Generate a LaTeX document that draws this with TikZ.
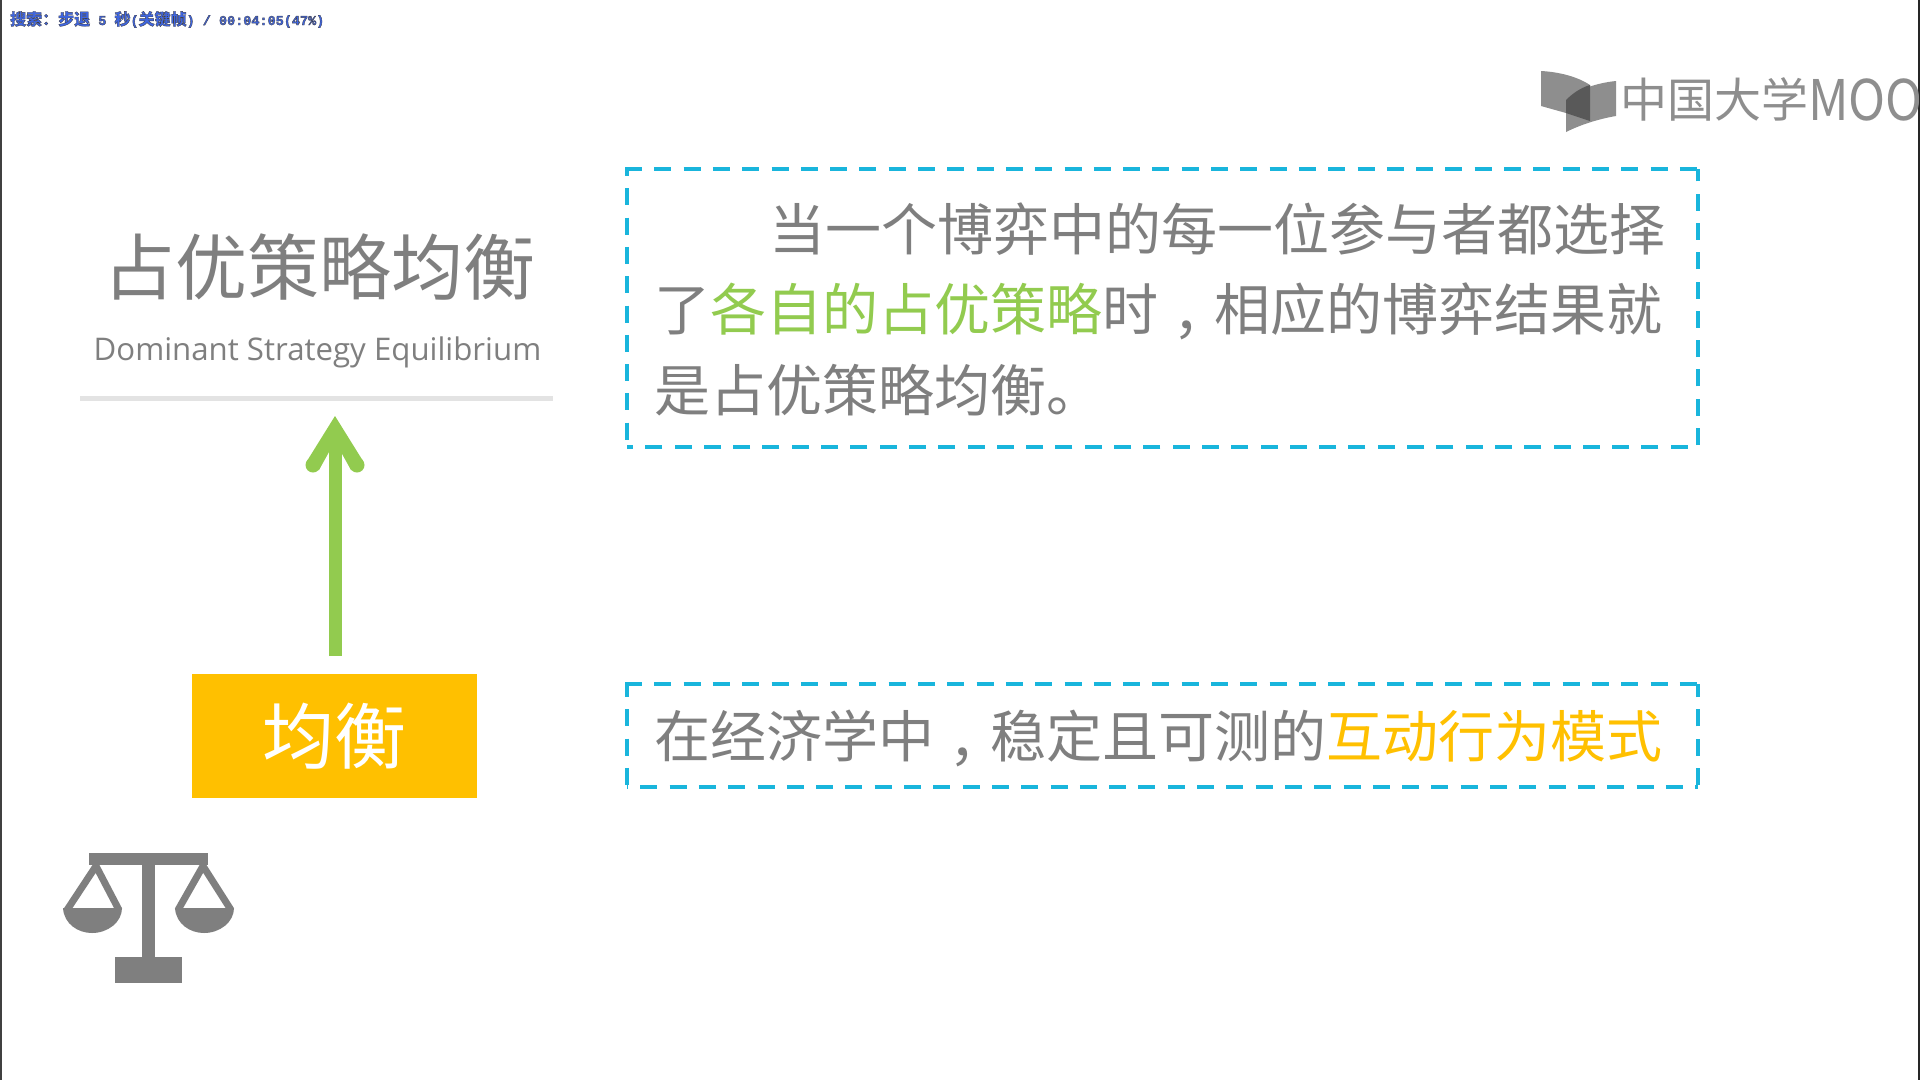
\documentclass[tikz,border=0pt]{standalone}
\usepackage{fontspec}
\usepackage{graphicx}
\newfontfamily\cjk{Noto Sans CJK SC}
\newfontfamily\cjktc{Noto Sans CJK TC}
\newfontfamily\opens{Open Sans}
\newfontfamily\stmono{Liberation Mono}
\definecolor{txtgray}{HTML}{7F7F7F}
\definecolor{linegray}{HTML}{E3E3E3}
\definecolor{logogray}{HTML}{8E8E8E}
\definecolor{logodark}{HTML}{595959}
\definecolor{dashblue}{HTML}{19B5DC}
\definecolor{greenhi}{HTML}{92CB4F}
\definecolor{orangehi}{HTML}{FFC000}
\definecolor{statusblue}{HTML}{3F66E0}
\newcommand{\cnm}{\raisebox{-20pt}{\cjktc ，}}
\newcommand{\stm}[1]{{\fontsize{13.5}{13.5}\selectfont\stmono\bfseries #1}}
\tikzset{
  x=1pt,y=-1pt,
  bodytext/.style={anchor=base west,inner sep=0pt,outer sep=0pt,font=\fontsize{56}{56}\selectfont\cjk,text=txtgray},
  dashedge/.style={draw=dashblue,line width=4pt,dash pattern=on 17pt off 12.3pt,dash phase=#1},
  dashedge/.default=0pt,
  boxframe/.style={inner sep=0pt,outer sep=0pt,anchor=north west},
  icon/.style={fill=txtgray,draw=none},
}
\begin{document}
\begin{tikzpicture}
\useasboundingbox (0,0) rectangle (1920,1080);
\fill[white] (0,0) rectangle (1920,1080);
\fill[black!75] (0,0) rectangle (2,1080);
\fill[black!85] (1918,0) rectangle (1920,1080);
% status line
\node[anchor=base west,inner sep=0pt,text=statusblue,font=\fontsize{16}{16}\selectfont\cjk\bfseries] (status) at (10,25)
 {\special{pdf:code q 0.35 w 0.25 0.25 0.3 RG 2 Tr}搜索：步退\stm{ 5 }秒\stm{(}关键帧\stm{) / 00:04:05(47\%)}\special{pdf:code 0 Tr Q}};
% logo
\fill[logogray] (1541,71) .. controls (1560,72) and (1578,77) .. (1590,85) -- (1590,121) -- (1566,113) -- (1541,106) -- cycle;
\fill[logogray] (1616,81) .. controls (1596,83) and (1576,90) .. (1566,100) -- (1566,132) .. controls (1580,125) and (1598,119) .. (1616,116) -- cycle;
\fill[logodark] (1590,85) .. controls (1580,88) and (1572,94) .. (1566,100) -- (1566,113) -- (1590,121) -- cycle;
\begin{scope}
\clip (1500,50) rectangle (1918,140);
\node[anchor=base west,inner sep=0pt,text=logogray,font=\fontsize{47}{47}\selectfont\cjk] (logotext) at (1620,117) {中国大学{\fontsize{50}{50}\selectfont\raisebox{-3.5pt}{\scalebox{1}[1.12]{MOOC}}}};
\end{scope}
% title
\node[anchor=base,inner sep=0pt,text=txtgray,font=\fontsize{72}{72}\selectfont\cjk] (title) at (319,294) {占优策略均衡};
\node[anchor=base,inner sep=0pt,text=txtgray,font=\fontsize{31.2}{31.2}\selectfont\opens] (subtitle) at (317.5,360) {Dominant Strategy Equilibrium};
\coordinate (ruleL) at (80,398);
\coordinate (ruleR) at (553,398);
\draw[linegray,line width=5pt] (ruleL) -- (ruleR);
% boxes
\node[boxframe,minimum width=1071pt,minimum height=278pt] (defbox) at (627,169) {};
\node[boxframe,minimum width=1071pt,minimum height=103pt] (eqbox) at (627,684) {};
\draw[dashedge] ([xshift=-2pt]defbox.north west) -- (defbox.north east);
\draw[dashedge=10pt] (defbox.north west) -- (defbox.south west);
\draw[dashedge] ([yshift=2pt]defbox.south east) -- (defbox.north east);
\draw[dashedge=19pt] (defbox.south east) -- (defbox.south west);
\draw[dashedge] ([xshift=-2pt]eqbox.north west) -- (eqbox.north east);
\draw[dashedge=4pt] (eqbox.north west) -- (eqbox.south west);
\draw[dashedge] ([yshift=2pt]eqbox.south east) -- (eqbox.north east);
\draw[dashedge=16pt] (eqbox.south west) -- (eqbox.south east);
\node[bodytext] (l1) at (769,250) {当一个博弈中的每一位参与者都选择};
\node[bodytext] (l2) at (654,330) {了\textcolor{greenhi}{各自的占优策略}时\cnm 相应的博弈结果就};
\node[bodytext] (l3) at (654,411) {是占优策略均衡。};
\node[bodytext] (l4) at (654,757) {在经济学中\cnm 稳定且可测的\textcolor{orangehi}{互动行为模式}};
% yellow box
\node[fill=orangehi,minimum width=285pt,minimum height=124pt,inner sep=0pt,anchor=north west,text=white,font=\fontsize{72}{72}\selectfont\cjk] (eq) at (192,674) {均衡};
% arrow
\coordinate (arrowfrom) at (335,656);
\coordinate (arrowtip) at (335,416);
\draw[greenhi,line width=13pt] (arrowfrom) -- ([yshift=-24pt]arrowtip);
\fill[greenhi] (arrowtip) -- (363,461) -- (351,470) -- (341,452) -- (329,452) -- (319,470) -- (307,461) -- cycle;
\fill[greenhi] (313,465) circle (7.5pt);
\fill[greenhi] (357,465) circle (7.5pt);
% scales
\fill[icon] (89,853) rectangle (208,865);
\fill[icon] (142,865) rectangle (155,957);
\fill[icon] (115,957) rectangle (182,983);
\draw[txtgray,line width=7pt,line join=miter] (67,910) -- (96,866) -- (119,910);
\draw[txtgray,line width=7pt,line join=miter] (178,910) -- (203,866) -- (231,910);
\fill[icon] (63,908) .. controls (64,924) and (78,933) .. (92,933) .. controls (108,933) and (122,922) .. (122,908) -- cycle;
\fill[icon] (175,908) .. controls (176,924) and (190,933) .. (204,933) .. controls (220,933) and (234,922) .. (234,908) -- cycle;
\end{tikzpicture}
\end{document}
